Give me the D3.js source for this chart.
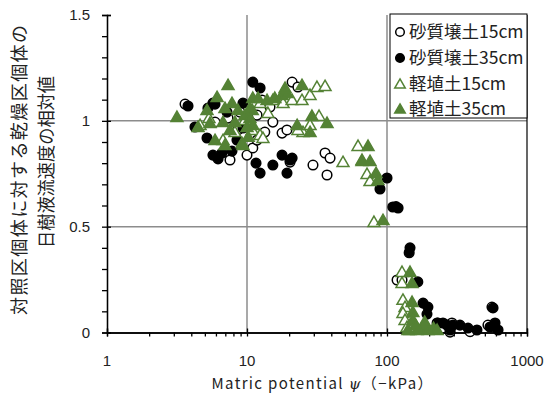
<!DOCTYPE html>
<html><head><meta charset="utf-8">
<script src="https://cdn.jsdelivr.net/npm/d3@7"></script>
<style>
body{margin:0;background:#fff;}
svg{display:block;}
text{font-family:"Noto Sans CJK JP","Noto Sans",sans-serif;}
</style></head>
<body>
<svg id="c" width="551" height="398"></svg>
<script>
const seriesNames = ["砂質壌土15cm","砂質壌土35cm","軽埴土15cm","軽埴土35cm"];
const xTickLabels = ["1","10","100","1000"];
const yTickLabels = ["0","0.5","1","1.5"];
const xTitleParts = ["Matric potential ", "ψ", "（−kPa）"];
const yTitle1 = "対照区個体に対する乾燥区個体の";
const yTitle2 = "日樹液流速度の相対値";

// [matric potential (-kPa), relative value]
const sandy15 = [
[3.61,1.079],[5.91,0.994],[7.56,0.815],[10,0.838],[11.0,0.872],[11.8,0.909],[12.8,0.933],
[13.4,0.947],[15.3,0.994],[17.8,0.942],[19.3,0.957],[21.0,1.183],[23.1,1.16],[14.6,1.065],
[29.6,0.791],[36.1,0.848],[39.2,0.824],[37.3,0.744],[20.3,0.805],[7.32,1.013],[8.91,1.041],
[8.62,0.957],[10.5,0.99],[11.8,1.027],[12.8,1.098],
[118,0.248],[128,0.248],[562,0.12],[231,0.045],[291,0.045],[282,0.002],[526,0.035],[392,0.004]
];
const sandy35 = [
[3.79,1.07],[5.71,1.084],[4.25,0.971],[5.18,0.919],[5.26,1.06],[5.91,1.079],[5.71,0.838],
[6.21,0.82],[6.63,0.848],[7.81,0.857],[8.48,0.909],[7.2,1.041],[9.36,1.084],[9.36,0.966],
[11.0,1.183],[12.4,1.155],[11.6,0.80],[12.4,0.753],[15.3,0.791],[17.8,0.838],[21.0,0.824],
[19.3,0.753],[20.3,0.815],
[100,0.73],[89.1,0.678],[110,0.593],[120,0.588],[116,0.595],[146,0.40],[144,0.377],[166,0.239],
[181,0.139],[196,0.12],[193,0.087],[228,0.045],[251,0.045],[268,0.035],[296,0.035],[332,0.035],
[379,0.021],[439,0.012],[544,0.026],[591,0.045],[572,0.116],[621,0.012],[282,0.012]
];
const light15 = [
[4.62,0.98],[5.35,1.013],[6.74,0.909],[8.2,0.947],[10.9,0.957],[12.4,0.933],[13.0,0.919],
[14.1,1.037],[12.4,1.084],[15.3,1.098],[18.1,1.084],[21.0,1.098],[24.7,1.098],[28.2,1.122],
[31.6,1.16],[36.1,1.164],[18.1,1.131],[25.1,0.947],[28.2,0.98],[32.7,1.023],[23.1,0.957],
[9.67,1.004],
[48.5,0.805],[62.1,0.881],[66.3,0.815],[72,0.749],[75.6,0.715],[80.7,0.522],
[128,0.286],[128,0.234],[130,0.154],[134.5,0.12],[130,0.092],[134.5,0.059],[139,0.026],[146,0.012]
];
const light35 = [
[3.16,1.018],[7.32,1.169],[6.11,1.112],[5.18,1.051],[6.96,1.06],[7.81,1.084],[8.62,1.051],
[9.67,1.027],[11.0,1.108],[10.9,1.051],[11.0,0.98],[10.2,0.924],[9.36,0.886],[5.91,0.909],
[4.47,0.971],[5.44,0.99],[6.74,0.994],[8.2,0.994],[7.56,0.957],[6.96,0.886],[9.21,0.895],
[10.5,1.06],[12.0,1.108],[13.9,1.098],[15.8,1.108],[17.8,1.122],[19.3,1.131],[18.7,1.155],
[10.5,1.013],[10.0,0.971],[29.1,1.023],[37.3,0.99],[22.8,0.98],[28.2,0.947],[24.7,1.169],
[73.2,0.881],[66.3,0.81],[75.6,0.81],[83.5,0.753],[86.2,0.72],[93.6,0.531],
[146,0.286],[151,0.234],[151,0.144],[153,0.097],[153,0.059],[164,0.012],[178,0.021],[196,0.012],
[215,0.021],[186,0.05],[160,0.035],[228,0.012],[141,0.012]
];

const green = "#548235";
const svg = d3.select("#c");
const x = d3.scaleLog().domain([1,1000]).range([107,527]);
const y = d3.scaleLinear().domain([0,1.5]).range([332.5,15]);

// gridlines
const grid = svg.append("g").attr("stroke","#8c8c8c").attr("stroke-width",1.5);
[10,100].forEach(v=>grid.append("line").attr("x1",x(v)).attr("x2",x(v)).attr("y1",y(0)).attr("y2",y(1.5)));
[0.5,1].forEach(v=>grid.append("line").attr("x1",x(1)).attr("x2",x(1000)).attr("y1",y(v)).attr("y2",y(v)));

// right border
svg.append("line").attr("x1",x(1000)).attr("x2",x(1000)).attr("y1",y(0)).attr("y2",y(1.5))
  .attr("stroke","#000").attr("stroke-width",1.2);

// axes
const majX = [1,10,100,1000];
const minX = [];
[1,10,100].forEach(d=>{for(let k=2;k<10;k++) minX.push(d*k);});
const gx = svg.append("g").attr("transform",`translate(0,${y(0)})`);
gx.call(d3.axisBottom(x).tickValues(minX.concat(majX)).tickSize(4).tickFormat(""));
gx.append("g").call(d3.axisTop(x).tickValues(majX).tickSize(4).tickFormat(""));
gx.selectAll("path.domain").attr("stroke","#000").attr("stroke-width",1.3);
gx.selectAll("line").attr("stroke","#000").attr("stroke-width",1.3);
svg.append("g").selectAll("text").data(majX).join("text")
  .attr("x",d=>x(d)).attr("y",366).attr("text-anchor","middle")
  .attr("font-size",15).attr("fill","#222").style("font-family","'Liberation Sans',sans-serif")
  .text((d,i)=>xTickLabels[i]);

const majY = [0,0.5,1,1.5];
const minY = d3.range(0,16).map(i=>i/10);
const gy = svg.append("g").attr("transform",`translate(${x(1)},0)`);
gy.call(d3.axisLeft(y).tickValues(minY).tickSize(5).tickFormat(""));
gy.append("g").call(d3.axisRight(y).tickValues(majY).tickSize(4).tickFormat(""));
gy.selectAll("path.domain").attr("stroke","#000").attr("stroke-width",1.3);
gy.selectAll("line").attr("stroke","#000").attr("stroke-width",1.3);
svg.append("g").selectAll("text").data(majY).join("text")
  .attr("x",90).attr("y",d=>y(d)+5).attr("text-anchor","end")
  .attr("font-size",15).attr("fill","#222").style("font-family","'Liberation Sans',sans-serif")
  .text((d,i)=>yTickLabels[i]);

// markers
const tri = d3.symbol().type(d3.symbolTriangle).size(62);
function circles(data, filled){
  svg.append("g").selectAll("circle").data(data).join("circle")
    .attr("cx",d=>x(d[0])).attr("cy",d=>y(d[1])).attr("r",4.8)
    .attr("fill",filled?"#000":"#fff").attr("stroke","#000").attr("stroke-width",1.5);
}
function triangles(data, filled){
  svg.append("g").selectAll("path").data(data).join("path")
    .attr("transform",d=>`translate(${x(d[0])},${y(d[1])+1})`).attr("d",tri)
    .attr("fill",filled?green:"#fff").attr("stroke",green).attr("stroke-width",1.5);
}
circles(sandy15,false);
circles(sandy35,true);
triangles(light15,false);
triangles(light35,true);

// legend
const lg = svg.append("g");
lg.append("rect").attr("x",390).attr("y",14).attr("width",137).attr("height",104)
  .attr("fill","#fff").attr("stroke","#000").attr("stroke-width",1);
const rows = [32,58,84,109];
seriesNames.forEach((n,i)=>{
  const ry = rows[i];
  if(i<2) lg.append("circle").attr("cx",400).attr("cy",ry).attr("r",4.3)
     .attr("fill",i===1?"#000":"#fff").attr("stroke","#000").attr("stroke-width",1.5);
  else lg.append("path").attr("transform",`translate(400,${ry+1})`).attr("d",d3.symbol().type(d3.symbolTriangle).size(48))
     .attr("fill",i===3?green:"#fff").attr("stroke",green).attr("stroke-width",1.5);
  lg.append("text").attr("x",409).attr("y",ry+6).attr("font-size",17.5).attr("fill","#222").text(n);
});

// axis titles
const xt = svg.append("text").attr("x",322).attr("y",389).attr("text-anchor","middle")
  .attr("font-size",15).attr("fill","#222").attr("textLength",221).attr("lengthAdjust","spacing");
xt.append("tspan").text(xTitleParts[0]);
xt.append("tspan").attr("font-style","italic").style("font-family","'DejaVu Serif',serif").text(xTitleParts[1]);
xt.append("tspan").text(xTitleParts[2]);
svg.append("text").attr("transform","translate(26,170) rotate(-90)").attr("text-anchor","middle")
  .attr("font-size",18).attr("fill","#222").attr("textLength",290).attr("lengthAdjust","spacing").text(yTitle1);
svg.append("text").attr("transform","translate(53,162) rotate(-90)").attr("text-anchor","middle")
  .attr("font-size",18).attr("fill","#222").attr("textLength",172).attr("lengthAdjust","spacingAndGlyphs").text(yTitle2);
</script>
</body></html>
